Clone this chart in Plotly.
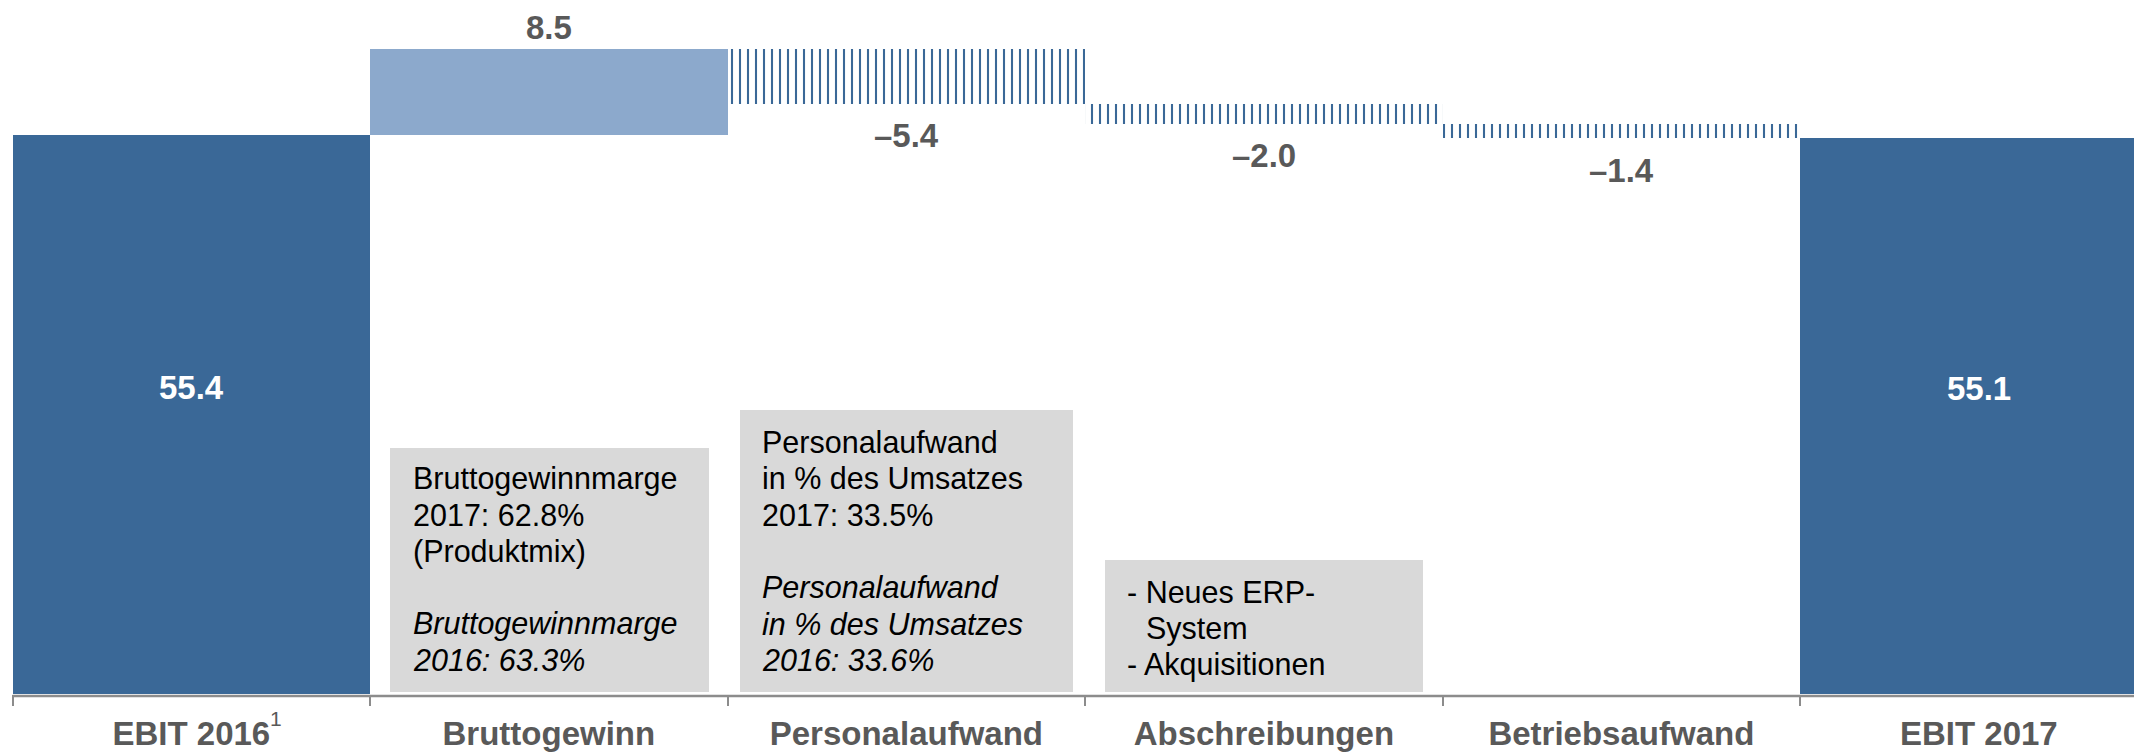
import plotly.graph_objects as go

# ---------------- data ----------------
categories = ["EBIT 2016", "Bruttogewinn", "Personalaufwand",
              "Abschreibungen", "Betriebsaufwand", "EBIT 2017"]
footnotes = ["1", "", "", "", "", ""]
kinds = ["total", "delta", "delta", "delta", "delta", "total"]
values = [55.4, 8.5, -5.4, -2.0, -1.4, 55.1]
value_labels = ["55.4", "8.5", "–5.4", "–2.0", "–1.4", "55.1"]

box1_lines = ["Bruttogewinnmarge", "2017: 62.8%", "(Produktmix)", "",
              "<i>Bruttogewinnmarge</i>", "<i>2016: 63.3%</i>"]
box2_lines = ["Personalaufwand", "in % des Umsatzes", "2017: 33.5%", "",
              "<i>Personalaufwand</i>", "<i>in % des Umsatzes</i>", "<i>2016: 33.6%</i>"]
box3_lines = ["- Neues ERP-", "  System", "- Akquisitionen"]

# ---------------- styles ----------------
DARK = "#3a6897"
LIGHT = "#8ca9cc"
GREY_TXT = "#595959"
BOX = "#d9d9d9"
AXIS = "#8c8c8c"
FONT = "Liberation Sans, Arial, sans-serif"

OFF = 8                    # page body margin offset
W, H = 2142 - OFF, 752 - OFF
AXIS_PAGE_Y = 694
PLOT_H = AXIS_PAGE_Y - OFF
PLOT_W = W
CAT_W = 357.5
LEFT_PX = 12.6 - OFF
PX_PER_UNIT = 10.09

# compute bars from values
bases, heights, tops, bottoms = [], [], [], []
running = 0.0
for k, v in zip(kinds, values):
    if k == "total":
        b, h = 0.0, v
        running = v
    else:
        b = running + min(0.0, v)
        h = abs(v)
        running += v
    bases.append(b)
    heights.append(h)
    tops.append(b + h)
    bottoms.append(b)

fig = go.Figure()

def add_group(idx, marker):
    fig.add_trace(go.Bar(
        x=[categories[i] for i in idx],
        y=[heights[i] for i in idx],
        base=[bases[i] for i in idx],
        width=1.0,
        marker=marker,
        hoverinfo="skip",
    ))

tot_idx = [i for i, k in enumerate(kinds) if k == "total"]
inc_idx = [i for i, k in enumerate(kinds) if k == "delta" and values[i] > 0]
dec_idx = [i for i, k in enumerate(kinds) if k == "delta" and values[i] < 0]

add_group(tot_idx, dict(color=DARK, line=dict(width=0)))
add_group(inc_idx, dict(color=LIGHT, line=dict(width=0)))
add_group(dec_idx, dict(color="white", line=dict(width=0),
                        pattern=dict(shape="|", fgcolor=DARK, bgcolor="white",
                                     size=8, solidity=0.26, fillmode="replace")))

annotations = []
for i, k in enumerate(kinds):
    if k == "total":
        annotations.append(dict(x=categories[i], y=heights[i] / 2, xref="x", yref="y",
                                text=value_labels[i], showarrow=False, yshift=27.5,
                                font=dict(family=FONT, size=33, color="white", weight="bold")))
    elif values[i] > 0:
        annotations.append(dict(x=categories[i], y=tops[i], xref="x", yref="y",
                                text=value_labels[i], showarrow=False, yshift=21.5,
                                yanchor="middle",
                                font=dict(family=FONT, size=33, color=GREY_TXT, weight="bold")))
    else:
        annotations.append(dict(x=categories[i], y=bottoms[i], xref="x", yref="y",
                                text=value_labels[i], showarrow=False, yshift=-32,
                                yanchor="middle",
                                font=dict(family=FONT, size=33, color=GREY_TXT, weight="bold")))

def px_x(p):
    return (p - OFF) / PLOT_W

def px_y(p):
    return 1 - (p - OFF) / PLOT_H

# footnote markers next to category labels
for i, fn in enumerate(footnotes):
    if fn:
        annotations.append(dict(x=categories[i], xref="x", y=px_y(718), yref="paper",
                                xanchor="left", yanchor="middle", xshift=77,
                                text=fn, showarrow=False,
                                font=dict(family=FONT, size=21, color=GREY_TXT)))

shapes = []
boxes = [
    # x0, x1, y_top, y_bottom (page px), text-left px, bottom line center px, line step, lines
    (390, 709, 448, 692, 411, 660, 36.3, box1_lines),
    (740, 1073, 410, 692, 760, 660, 36.3, box2_lines),
    (1105, 1423, 560, 692, 1125, 664, 36.0, box3_lines),
]
for x0, x1, yt, yb, tx, ybot, step, lines in boxes:
    shapes.append(dict(type="rect", xref="paper", yref="paper",
                       x0=px_x(x0), x1=px_x(x1), y0=px_y(yb), y1=px_y(yt),
                       fillcolor=BOX, line=dict(width=0), layer="below"))
    n = len(lines)
    for j, line in enumerate(lines):
        if not line:
            continue
        cy = ybot - (n - 1 - j) * step
        txt = line
        xx = tx
        if line.startswith("  "):
            txt = line.strip()
            xx = tx + 19
        annotations.append(dict(x=px_x(xx), y=px_y(cy), xref="paper", yref="paper",
                                xanchor="left", yanchor="middle", text=txt, showarrow=False,
                                font=dict(family=FONT, size=30.5, color="#000000")))

# axis baseline
shapes.append(dict(type="line", xref="x", yref="paper", x0=-0.5, x1=len(categories) - 0.5,
                   y0=-2 / PLOT_H, y1=-2 / PLOT_H, line=dict(color=AXIS, width=2.5),
                   layer="above"))

span = PLOT_W / CAT_W
x_left = -0.5 - LEFT_PX / CAT_W

fig.update_layout(
    width=W, height=H,
    margin=dict(l=0, r=0, t=0, b=H - PLOT_H),
    paper_bgcolor="white", plot_bgcolor="white",
    showlegend=False, barmode="overlay", bargap=0,
    xaxis=dict(type="category", categoryorder="array", categoryarray=categories,
               range=[x_left, x_left + span], showgrid=False, zeroline=False,
               showline=False, ticks="outside", tickson="boundaries", ticklen=11,
               tickwidth=1.5, tickcolor=AXIS, ticklabelstandoff=17,
               tickfont=dict(family=FONT, size=33, color=GREY_TXT, weight="bold"),
               fixedrange=True),
    yaxis=dict(visible=False, range=[0, PLOT_H / PX_PER_UNIT], fixedrange=True),
    shapes=shapes,
    annotations=annotations,
)

fig.write_html("out.html")
